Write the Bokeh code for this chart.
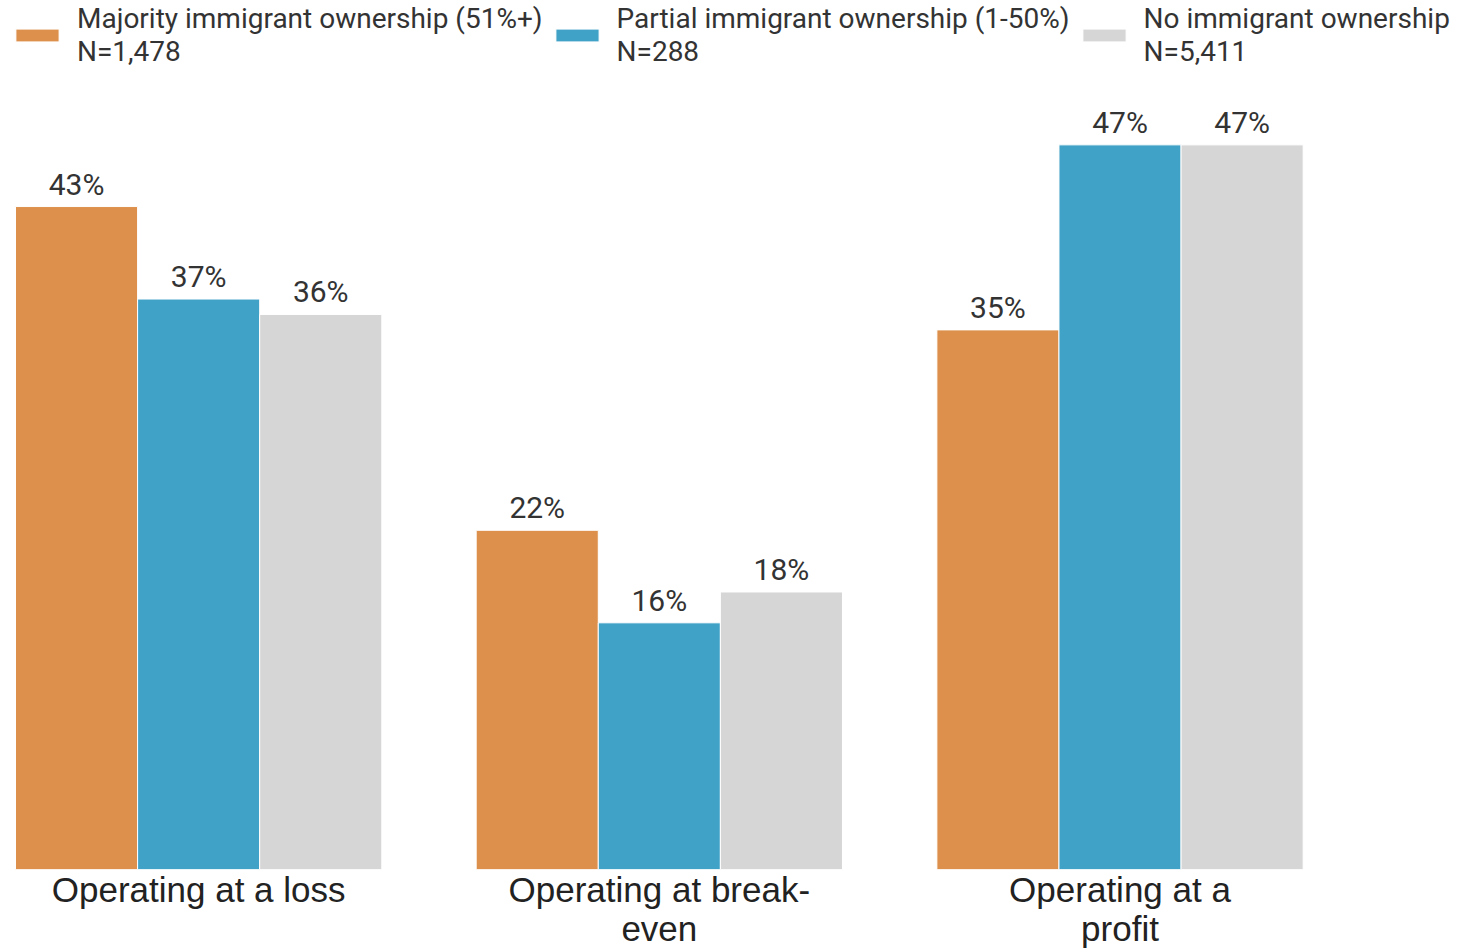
from bokeh.plotting import figure
from bokeh.models import ColumnDataSource, Range1d, Legend, LegendItem, FixedTicker, LabelSet
from bokeh.core.properties import value
from bokeh.embed import file_html
from bokeh.resources import INLINE

categories = ["Operating at a loss", "Operating at break-\neven", "Operating at a\nprofit"]
series = ["Majority immigrant ownership (51%+)\nN=1,478",
          "Partial immigrant ownership (1-50%)\nN=288",
          "No immigrant ownership\nN=5,411"]
majority = [43, 22, 35]
partial = [37, 16, 47]
none_ = [36, 18, 47]
colors = ["#DD904C", "#41A2C7", "#D6D6D6"]

STRIDE = 3.773
UNIT_PX = 122.1
W, H = 1460, 950
LEFT = 10
TOP = 2
FW = W - LEFT

p = figure(width=W, height=H, output_backend="svg", toolbar_location=None,
           x_range=Range1d(-5 / UNIT_PX, -5 / UNIT_PX + FW / UNIT_PX),
           y_range=Range1d(0, (868 - TOP) / 15.4),
           min_border_left=LEFT, min_border_right=0, min_border_top=TOP, min_border_bottom=0)
p.outline_line_color = None
p.xgrid.visible = False
p.ygrid.visible = False
p.yaxis.visible = False
p.background_fill_color = "white"

renderers = []
for si, vals in enumerate([majority, partial, none_]):
    xs = [gi * STRIDE + si + 0.5 for gi in range(len(categories))]
    src = ColumnDataSource(dict(x=xs, top=vals, lab=[f"{v}%" for v in vals]))
    r = p.vbar(x="x", top="top", width=1.0, bottom=0, source=src,
               fill_color=colors[si], line_color="white", line_width=1)
    renderers.append(r)
    ls = LabelSet(x="x", y="top", text="lab", source=src, text_align="center",
                  text_baseline="alphabetic", y_offset=12, text_font=value("Roboto"),
                  text_font_size=value("30px"), text_color=value("#333333"))
    p.add_layout(ls)

centers = [gi * STRIDE + 1.5 for gi in range(len(categories))]
ax = p.xaxis[0]
ax.ticker = FixedTicker(ticks=centers)
ax.major_label_overrides = {c: lab for c, lab in zip(centers, categories)}
ax.axis_line_color = None
ax.major_tick_line_color = None
ax.major_tick_out = 0
ax.major_tick_in = 0
ax.minor_tick_line_color = None
ax.major_label_text_font = "Liberation Sans"
ax.major_label_text_font_size = "35px"
ax.major_label_text_line_height = 1.0
ax.major_label_text_color = "#222222"
ax.major_label_standoff = 0

legend = Legend(items=[LegendItem(label=s, renderers=[r]) for s, r in zip(series, renderers)],
                orientation="horizontal", location="top_left",
                glyph_width=54, glyph_height=16, label_standoff=13, spacing=7,
                padding=0, margin=0,
                label_text_font="Roboto", label_text_font_size="28px",
                label_text_line_height=1.07,
                label_text_color="#333333", background_fill_alpha=0,
                border_line_color=None)
p.add_layout(legend)

open("out.html", "w").write(file_html(p, INLINE))
